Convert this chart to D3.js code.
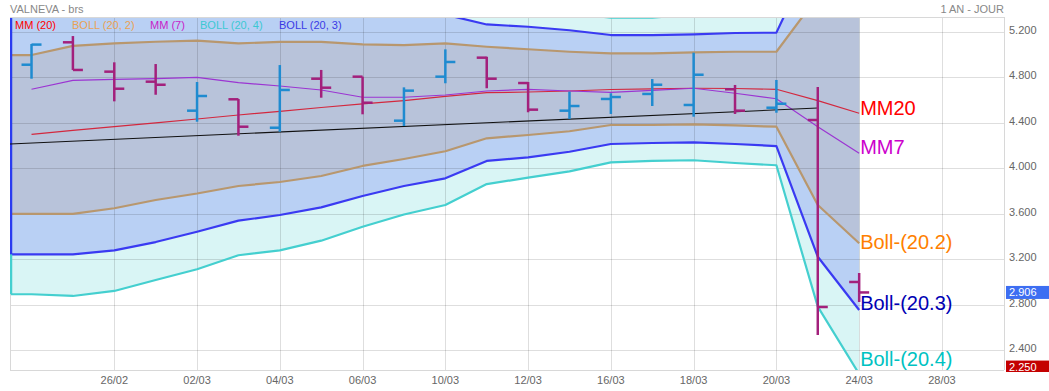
<!DOCTYPE html>
<html>
<head>
<meta charset="utf-8">
<script src="https://cdn.jsdelivr.net/npm/d3@7"></script>
<style>
  body { margin: 0; background: #fff; }
  svg { display: block; font-family: "Liberation Sans", Arial, sans-serif; }
</style>
</head>
<body>
<svg id="chart" width="1049" height="391"></svg>
<script>
// VALNEVA daily bars (index 0 = first bar on the left)
var opens  = [4.908, 5.105, 4.847, 4.759, 4.504, 4.604, 4.354, 4.785, 4.803, 4.416, 4.803, 4.970, 4.747, 4.504, 4.607, 4.651, 4.554, 4.692, 4.530, 4.422, 2.998];
var highs  = [5.090, 5.160, 4.929, 4.914, 4.756, 4.607, 4.905, 4.862, 4.803, 4.709, 5.043, 4.978, 4.756, 4.671, 4.657, 4.782, 5.014, 4.730, 4.774, 4.712, 3.077];
var lows   = [4.785, 4.862, 4.586, 4.644, 4.407, 4.284, 4.319, 4.618, 4.472, 4.369, 4.745, 4.701, 4.490, 4.431, 4.475, 4.545, 4.451, 4.475, 4.486, 2.532, 2.822];
var closes = [5.085, 4.862, 4.697, 4.732, 4.633, 4.363, 4.686, 4.706, 4.574, 4.680, 4.932, 4.785, 4.513, 4.545, 4.624, 4.732, 4.820, 4.504, 4.565, 2.778, 2.906];

// moving averages
var mm20 = [4.296, 4.330, 4.364, 4.397, 4.431, 4.466, 4.498, 4.532, 4.563, 4.592, 4.629, 4.662, 4.668, 4.677, 4.690, 4.695, 4.701, 4.699, 4.692, 4.592, 4.481];
var mm7  = [4.692, 4.771, 4.780, 4.785, 4.797, 4.750, 4.721, 4.686, 4.622, 4.622, 4.642, 4.677, 4.692, 4.677, 4.665, 4.683, 4.701, 4.657, 4.609, 4.363, 4.129];

// bollinger bands
var boll2Up = [4.993, 5.073, 5.096, 5.110, 5.119, 5.096, 5.108, 5.108, 5.087, 5.081, 5.096, 5.066, 5.044, 5.022, 5.008, 5.008, 5.017, 5.022, 5.022, 5.509, 5.624];
var boll2Dn = [3.596, 3.596, 3.646, 3.719, 3.776, 3.842, 3.877, 3.930, 4.018, 4.079, 4.147, 4.261, 4.290, 4.323, 4.378, 4.378, 4.384, 4.374, 4.363, 3.675, 3.338];
var boll3Up = [5.351, 5.418, 5.451, 5.445, 5.422, 5.395, 5.410, 5.409, 5.371, 5.342, 5.348, 5.262, 5.242, 5.211, 5.169, 5.169, 5.175, 5.187, 5.190, 5.963, 6.210];
var boll3Dn = [3.241, 3.241, 3.276, 3.349, 3.440, 3.537, 3.587, 3.654, 3.754, 3.842, 3.909, 4.062, 4.094, 4.143, 4.211, 4.220, 4.226, 4.211, 4.193, 3.220, 2.752];
var boll4Up = [5.703, 5.785, 5.809, 5.779, 5.752, 5.699, 5.720, 5.703, 5.641, 5.592, 5.582, 5.465, 5.422, 5.363, 5.321, 5.321, 5.352, 5.365, 5.370, 6.403, 6.773];
var boll4Dn = [2.890, 2.875, 2.919, 3.015, 3.110, 3.233, 3.276, 3.361, 3.484, 3.591, 3.675, 3.859, 3.915, 3.971, 4.050, 4.062, 4.068, 4.044, 4.024, 2.781, 2.189];

// black trend line (start at left edge, end at bar 19)
var trendValues = [4.211, 4.527];

// axes
var xTickIdx    = [2, 4, 6, 8, 10, 12, 14, 16, 18, 20, 22];
var xTickLabels = ["26/02", "02/03", "04/03", "06/03", "10/03", "12/03", "16/03", "18/03", "20/03", "24/03", "28/03"];
var yTickVals   = [2.4, 2.8, 3.2, 3.6, 4.0, 4.4, 4.8, 5.2];
var markerLow   = 2.250;

var svg = d3.select("#chart");
var pL = 10, pR = 1004, pT = 17, pB = 370;

var x = d3.scaleLinear().domain([-0.52, 23.5]).range([pL, pR]);
var y = d3.scaleLinear().domain([2.2242, 5.3275]).range([pB, pT]);
var fmt = d3.format(".3f");

svg.append("defs").append("clipPath").attr("id", "plot")
    .append("rect")
    .attr("x", pL).attr("y", pT)
    .attr("width", pR - pL).attr("height", pB - pT);

var plot = svg.append("g").attr("clip-path", "url(#plot)");

// band points, extended flat to the left edge
function band(up, dn) {
    var pts = [{ i: x.domain()[0], up: up[0], dn: dn[0] }];
    up.forEach(function(v, i) { pts.push({ i: i, up: v, dn: dn[i] }); });
    return pts;
}

var area = d3.area()
    .x(function(d) { return x(d.i); })
    .y0(function(d) { return y(d.dn); })
    .y1(function(d) { return y(d.up); });

var lineUp = d3.line().x(function(d) { return x(d.i); }).y(function(d) { return y(d.up); });
var lineDn = d3.line().x(function(d) { return x(d.i); }).y(function(d) { return y(d.dn); });

var bands = [
    { pts: band(boll4Up, boll4Dn), fill: "#d9f5f5", stroke: "#44cfcf" },
    { pts: band(boll3Up, boll3Dn), fill: "#b9d0f4", stroke: "#3a3af2" },
    { pts: band(boll2Up, boll2Dn), fill: "#b8c3da", stroke: "#b8976e" }
];

bands.forEach(function(b) {
    plot.append("path").datum(b.pts)
        .attr("d", area)
        .attr("fill", b.fill);
});

// grid
plot.selectAll(".hgrid").data(yTickVals).enter()
    .append("line")
    .attr("x1", pL).attr("x2", pR)
    .attr("y1", function(d) { return Math.round(y(d)) + 0.5; })
    .attr("y2", function(d) { return Math.round(y(d)) + 0.5; })
    .attr("stroke", "#000").attr("stroke-opacity", 0.13);

plot.selectAll(".vgrid").data(xTickIdx).enter()
    .append("line")
    .attr("x1", function(d) { return Math.round(x(d)) + 0.5; })
    .attr("x2", function(d) { return Math.round(x(d)) + 0.5; })
    .attr("y1", pT).attr("y2", pB)
    .attr("stroke", "#000").attr("stroke-opacity", 0.13);

// band lines
bands.forEach(function(b) {
    [lineUp, lineDn].forEach(function(ln) {
        plot.append("path").datum(b.pts)
            .attr("d", ln)
            .attr("fill", "none")
            .attr("stroke", b.stroke)
            .attr("stroke-width", 2.2)
            .attr("stroke-linejoin", "round");
    });
});

// left edge of the bands
plot.append("line")
    .attr("x1", pL + 1).attr("x2", pL + 1)
    .attr("y1", pT).attr("y2", y(boll3Dn[0]))
    .attr("stroke", "#2a3cf0").attr("stroke-width", 2.5);
plot.append("line")
    .attr("x1", pL + 1).attr("x2", pL + 1)
    .attr("y1", y(boll3Dn[0])).attr("y2", y(boll4Dn[0]))
    .attr("stroke", "#44cfcf").attr("stroke-width", 2.5);

// frame
svg.append("line").attr("x1", pL).attr("x2", pR).attr("y1", pT + 0.5).attr("y2", pT + 0.5).attr("stroke", "#d8d8d8");
svg.append("line").attr("x1", pL).attr("x2", pR).attr("y1", pB + 0.5).attr("y2", pB + 0.5).attr("stroke", "#d8d8d8");
svg.append("line").attr("x1", pR + 0.5).attr("x2", pR + 0.5).attr("y1", pT).attr("y2", pB).attr("stroke", "#d8d8d8");
svg.append("line").attr("x1", pL + 0.5).attr("x2", pL + 0.5).attr("y1", y(boll4Dn[0])).attr("y2", pB).attr("stroke", "#d8d8d8");

// moving averages and trend
var simple = d3.line().x(function(d, i) { return x(i); }).y(function(d) { return y(d); });

plot.append("path").datum(mm20).attr("d", simple)
    .attr("fill", "none").attr("stroke", "#d3283e").attr("stroke-width", 1.2);
plot.append("path").datum(mm7).attr("d", simple)
    .attr("fill", "none").attr("stroke", "#9b35d2").attr("stroke-width", 1.2);
plot.append("line")
    .attr("x1", x(x.domain()[0])).attr("y1", y(trendValues[0]))
    .attr("x2", x(19)).attr("y2", y(trendValues[1]))
    .attr("stroke", "#111").attr("stroke-width", 1.1);

// OHLC bars
var bars = plot.selectAll(".bar").data(opens).enter()
    .append("g")
    .attr("stroke", function(d, i) { return closes[i] >= d ? "#1f8bd0" : "#a3207c"; })
    .attr("stroke-width", 2.5);

bars.append("line")
    .attr("x1", function(d, i) { return x(i); })
    .attr("x2", function(d, i) { return x(i); })
    .attr("y1", function(d, i) { return y(highs[i]); })
    .attr("y2", function(d, i) { return y(lows[i]); });
bars.append("line")
    .attr("x1", function(d, i) { return x(i) - 10; })
    .attr("x2", function(d, i) { return x(i); })
    .attr("y1", function(d) { return y(d); })
    .attr("y2", function(d) { return y(d); });
bars.append("line")
    .attr("x1", function(d, i) { return x(i); })
    .attr("x2", function(d, i) { return x(i) + 10; })
    .attr("y1", function(d, i) { return y(closes[i]); })
    .attr("y2", function(d, i) { return y(closes[i]); });

// line labels on the right
var n = closes.length - 1;
var endLabels = [
    { text: "MM20",        v: mm20[n],    color: "#ff0000", dy: 2 },
    { text: "MM7",         v: mm7[n],     color: "#cc00cc", dy: 1 },
    { text: "Boll-(20.2)", v: boll2Dn[n], color: "#ff7f00", dy: 6 },
    { text: "Boll-(20.3)", v: boll3Dn[n], color: "#0000b4", dy: 0 },
    { text: "Boll-(20.4)", v: boll4Dn[n], color: "#00c2c2", dy: 0 }
];
svg.selectAll(".endlbl").data(endLabels).enter()
    .append("text")
    .attr("x", x(n) + 1)
    .attr("y", function(d) { return Math.min(y(d.v) + d.dy, pB - 4); })
    .attr("font-size", 20)
    .attr("fill", function(d) { return d.color; })
    .text(function(d) { return d.text; });

// y axis labels
svg.selectAll(".ylbl").data(yTickVals).enter()
    .append("text")
    .attr("x", pR + 5)
    .attr("y", function(d) { return y(d) + 2; })
    .attr("font-size", 11)
    .attr("fill", "#666")
    .text(function(d) { return fmt(d); });

// value boxes
function valueBox(v, color, clipBottom) {
    var cy = y(v);
    var g = svg.append("g");
    var h = 13;
    var y0 = cy - h / 2;
    var hh = clipBottom ? Math.min(h, pB + 2 - y0) : h;
    g.append("rect").attr("x", pR + 2).attr("y", y0).attr("width", 1049 - pR - 2).attr("height", hh).attr("fill", color);
    g.append("text").attr("x", pR + 5).attr("y", cy + 4)
        .attr("font-size", 11).attr("fill", "#fff").text(fmt(v));
}
valueBox(closes[n], "#3d6ef2", false);
valueBox(markerLow, "#c40000", true);

// x axis labels
svg.selectAll(".xlbl").data(xTickIdx).enter()
    .append("text")
    .attr("x", function(d) { return x(d); })
    .attr("y", 384)
    .attr("text-anchor", "middle")
    .attr("font-size", 11)
    .attr("fill", "#666")
    .text(function(d, i) { return xTickLabels[i]; });

// header
svg.append("text").attr("x", 10).attr("y", 13).attr("font-size", 11).attr("fill", "#888").text("VALNEVA - brs");
svg.append("text").attr("x", pR).attr("y", 13).attr("text-anchor", "end").attr("font-size", 11).attr("fill", "#888").text("1 AN - JOUR");

// legend
var legend = [
    { text: "MM (20)",      color: "#ff0000", x: 15 },
    { text: "BOLL (20, 2)", color: "#e9a253", x: 72 },
    { text: "MM (7)",       color: "#c822c8", x: 150 },
    { text: "BOLL (20, 4)", color: "#3cc8d2", x: 200 },
    { text: "BOLL (20, 3)", color: "#3a3ae6", x: 279 }
];
svg.selectAll(".leg").data(legend).enter()
    .append("text")
    .attr("x", function(d) { return d.x; })
    .attr("y", 29)
    .attr("font-size", 11)
    .attr("fill", function(d) { return d.color; })
    .text(function(d) { return d.text; });
</script>
</body>
</html>
